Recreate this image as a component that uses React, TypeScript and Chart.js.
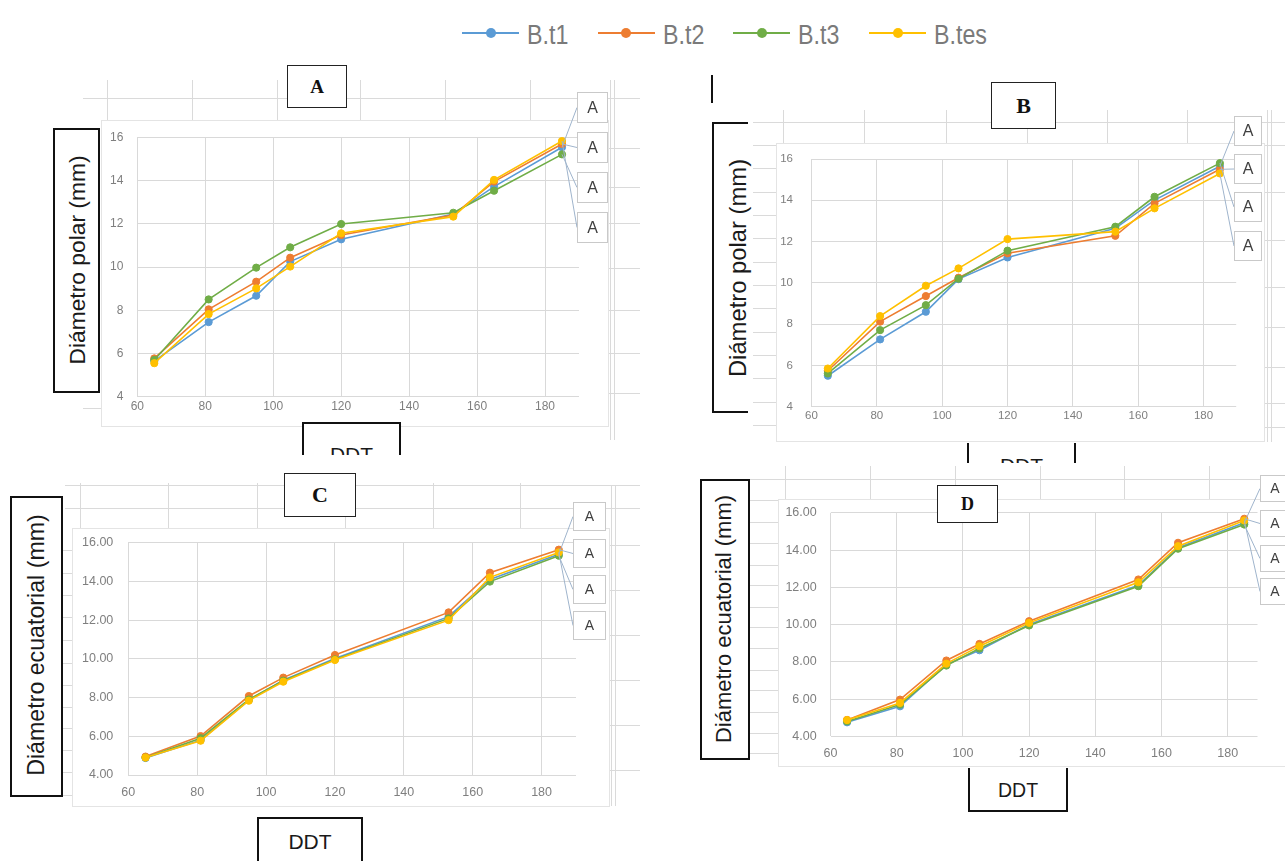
import React, { useEffect, useRef } from "react";
import { Chart, registerables } from "chart.js";

Chart.register(...registerables);

// ---------- DATA ----------
const DDT = [65, 81, 95, 105, 120, 153, 165, 185];
const SERIES_NAMES = ["B.t1", "B.t2", "B.t3", "B.tes"];
const X_TICKS = [60, 80, 100, 120, 140, 160, 180];
const Y_TICKS = [4, 6, 8, 10, 12, 14, 16];
const POINT_LABELS = ["A", "A", "A", "A"];

// Panel A – Diámetro polar (mm)
const A_BT1 = [5.65, 7.45, 8.67, 10.25, 11.28, 12.45, 13.72, 15.54];
const A_BT2 = [5.77, 8.04, 9.32, 10.43, 11.48, 12.4, 13.95, 15.69];
const A_BT3 = [5.7, 8.5, 9.97, 10.91, 11.99, 12.51, 13.53, 15.21];
const A_BTES = [5.55, 7.82, 9.01, 10.02, 11.56, 12.33, 14.03, 15.83];

// Panel B – Diámetro polar (mm)
const B_BT1 = [5.5, 7.26, 8.6, 10.18, 11.23, 12.64, 14.01, 15.65];
const B_BT2 = [5.74, 8.12, 9.36, 10.25, 11.43, 12.28, 13.85, 15.5];
const B_BT3 = [5.61, 7.71, 8.92, 10.2, 11.56, 12.72, 14.17, 15.8];
const B_BTES = [5.85, 8.39, 9.86, 10.7, 12.12, 12.48, 13.61, 15.3];

// Panel C – Diámetro ecuatorial (mm)
const C_BT1 = [4.88, 5.8, 7.87, 8.9, 10.02, 12.18, 14.1, 15.4];
const C_BT2 = [4.95, 6.01, 8.08, 9.03, 10.2, 12.4, 14.45, 15.64];
const C_BT3 = [4.9, 5.9, 7.9, 8.87, 9.97, 12.09, 13.99, 15.33];
const C_BTES = [4.9, 5.77, 7.84, 8.82, 9.94, 12.0, 14.21, 15.5];

// Panel D – Diámetro ecuatorial (mm)
const D_BT1 = [4.75, 5.61, 7.85, 8.62, 10.0, 12.11, 14.12, 15.46];
const D_BT2 = [4.88, 5.97, 8.07, 8.96, 10.18, 12.42, 14.39, 15.68];
const D_BT3 = [4.8, 5.7, 7.8, 8.71, 9.95, 12.06, 14.07, 15.37];
const D_BTES = [4.87, 5.79, 7.9, 8.84, 10.09, 12.27, 14.21, 15.59];

// ---------- STYLE / LAYOUT ----------
const COLORS = ["#5B9BD5", "#ED7D31", "#70AD47", "#FFC000"];
const SANS = "'Liberation Sans', Arial, sans-serif";
const SERIF = "'Liberation Serif', 'Times New Roman', serif";
const TICK_COLOR = "#7f7f7f";
const GRID_COLOR = "#d9d9d9";
const SHEET_COLOR = "#dadada";

type Box = { x: number; y: number; w: number; h: number };
type Panel = {
  series: number[][];
  decimals: boolean;
  xMax: number;
  canvas: Box;
  frame: Box;
  yAxisW: number;
  padTop: number;
  padRight: number;
  xAxisH: number;
  tickSize: number;
  xTickPad: number;
  yTickPad: number;
  boxes: Box[];
  boxFont: number;
};

const PANELS: Panel[] = [
  {
    series: [A_BT1, A_BT2, A_BT3, A_BTES],
    decimals: false,
    xMax: 190,
    canvas: { x: 101, y: 88, w: 512, h: 339 },
    frame: { x: 101, y: 120, w: 508, h: 307 },
    yAxisW: 36.3,
    padTop: 49.3,
    padRight: 34,
    xAxisH: 30.3,
    tickSize: 12,
    xTickPad: 3,
    yTickPad: 14,
    boxes: [
      { x: 577, y: 92, w: 31, h: 31 },
      { x: 577, y: 132, w: 31, h: 31 },
      { x: 577, y: 172, w: 31, h: 31 },
      { x: 577, y: 212, w: 31, h: 31 },
    ],
    boxFont: 16,
  },
  {
    series: [B_BT1, B_BT2, B_BT3, B_BTES],
    decimals: false,
    xMax: 190,
    canvas: { x: 776, y: 110, w: 492, h: 332 },
    frame: { x: 776, y: 143, w: 489, h: 299 },
    yAxisW: 35.5,
    padTop: 49,
    padRight: 31.8,
    xAxisH: 35.3,
    tickSize: 11.5,
    xTickPad: 2.4,
    yTickPad: 18.5,
    boxes: [
      { x: 1234, y: 116, w: 28, h: 30 },
      { x: 1234, y: 154, w: 28, h: 30 },
      { x: 1234, y: 192, w: 28, h: 30 },
      { x: 1234, y: 231, w: 28, h: 30 },
    ],
    boxFont: 16,
  },
  {
    series: [C_BT1, C_BT2, C_BT3, C_BTES],
    decimals: true,
    xMax: 190,
    canvas: { x: 72, y: 495, w: 540, h: 312 },
    frame: { x: 72, y: 528, w: 538, h: 279 },
    yAxisW: 56.3,
    padTop: 47.7,
    padRight: 36,
    xAxisH: 32,
    tickSize: 12.5,
    xTickPad: 9.8,
    yTickPad: 15,
    boxes: [
      { x: 573, y: 502, w: 33, h: 29 },
      { x: 573, y: 539, w: 33, h: 29 },
      { x: 573, y: 575, w: 33, h: 29 },
      { x: 573, y: 611, w: 33, h: 29 },
    ],
    boxFont: 14,
  },
  {
    series: [D_BT1, D_BT2, D_BT3, D_BTES],
    decimals: true,
    xMax: 189,
    canvas: { x: 778, y: 470, w: 507, h: 297 },
    frame: { x: 778, y: 499, w: 510, h: 268 },
    yAxisW: 52.5,
    padTop: 42.8,
    padRight: 27.5,
    xAxisH: 30.7,
    tickSize: 12.5,
    xTickPad: 9.5,
    yTickPad: 13.8,
    boxes: [
      { x: 1260, y: 475, w: 30, h: 27 },
      { x: 1260, y: 510, w: 30, h: 27 },
      { x: 1260, y: 545, w: 30, h: 27 },
      { x: 1260, y: 578, w: 30, h: 27 },
    ],
    boxFont: 14,
  },
];

// faint spreadsheet cell lines behind the pasted charts [x1, y1, x2, y2]
const SHEET_LINES: number[][] = [
  // around A
  [83, 98, 640, 98],
  [107, 80, 107, 120], [192, 80, 192, 120], [277, 80, 277, 120],
  [360, 80, 360, 120], [445, 80, 445, 120], [530, 80, 530, 120],
  [610, 80, 610, 440], [614, 80, 614, 440],
  [609, 148, 640, 148], [609, 187, 640, 187], [609, 223, 640, 223], [609, 268, 640, 268],
  [609, 310, 640, 310], [609, 353, 640, 353], [609, 393, 640, 393],
  [83, 408, 101, 408],
  // around B
  [753, 122, 1285, 122],
  [783, 110, 783, 143], [864, 110, 864, 143], [946, 110, 946, 143],
  [1027, 110, 1027, 143], [1107, 110, 1107, 143], [1187, 110, 1187, 143],
  [1267, 110, 1267, 442], [1271, 110, 1271, 442],
  [1265, 145, 1285, 145], [1265, 192, 1285, 192], [1265, 240, 1285, 240], [1265, 287, 1285, 287],
  [1265, 327, 1285, 327], [1265, 367, 1285, 367], [1265, 403, 1285, 403], [1265, 427, 1285, 427],
  [753, 145, 776, 145], [753, 168, 776, 168], [753, 192, 776, 192], [753, 215, 776, 215],
  [753, 238, 776, 238], [753, 262, 776, 262], [753, 285, 776, 285], [753, 308, 776, 308],
  [753, 332, 776, 332], [753, 355, 776, 355], [753, 378, 776, 378], [753, 402, 776, 402],
  [753, 425, 776, 425],
  // around C
  [65, 485, 640, 485], [65, 508, 640, 508],
  [80, 483, 80, 528], [168, 483, 168, 528], [257, 483, 257, 528],
  [345, 483, 345, 528], [433, 483, 433, 528], [520, 483, 520, 528],
  [611, 485, 611, 806], [615, 485, 615, 806],
  [610, 545, 640, 545], [610, 590, 640, 590], [610, 635, 640, 635], [610, 680, 640, 680],
  [610, 725, 640, 725], [610, 770, 640, 770],
  [63, 550, 72, 550], [63, 573, 72, 573], [63, 595, 72, 595], [63, 617, 72, 617],
  [63, 640, 72, 640], [63, 663, 72, 663], [63, 685, 72, 685], [63, 707, 72, 707],
  [63, 728, 72, 728], [63, 750, 72, 750], [63, 772, 72, 772], [63, 795, 72, 795],
  // around D
  [750, 479, 1285, 479],
  [785, 466, 785, 499], [870, 466, 870, 499], [955, 466, 955, 499],
  [1040, 466, 1040, 499], [1124, 466, 1124, 499], [1209, 466, 1209, 499],
  [750, 500, 778, 500], [750, 522, 778, 522], [750, 543, 778, 543], [750, 565, 778, 565],
  [750, 585, 778, 585], [750, 607, 778, 607], [750, 627, 778, 627], [750, 648, 778, 648],
  [750, 670, 778, 670], [750, 690, 778, 690], [750, 712, 778, 712], [750, 733, 778, 733],
  [750, 753, 778, 753],
];

// ---------- plugin: data labels with leader lines ----------
const leaderPlugin = {
  id: "leaderLabels",
  afterDatasetsDraw(chart: any, _args: any, opts: any) {
    const { boxes, originX, originY, font, labels } = opts;
    const ctx = chart.ctx;
    ctx.save();
    chart.data.datasets.forEach((_ds: any, i: number) => {
      const meta = chart.getDatasetMeta(i);
      const pt = meta.data[meta.data.length - 1];
      const b = boxes[i];
      const bx = b.x - originX;
      const by = b.y - originY;
      ctx.strokeStyle = "#9fb4cc";
      ctx.lineWidth = 1;
      ctx.beginPath();
      ctx.moveTo(pt.x, pt.y);
      ctx.lineTo(bx, by + b.h / 2);
      ctx.stroke();
    });
    chart.data.datasets.forEach((_ds: any, i: number) => {
      const b = boxes[i];
      const bx = b.x - originX;
      const by = b.y - originY;
      ctx.fillStyle = "#ffffff";
      ctx.fillRect(bx, by, b.w, b.h);
      ctx.strokeStyle = "#c9c9c9";
      ctx.lineWidth = 1;
      ctx.strokeRect(bx + 0.5, by + 0.5, b.w - 1, b.h - 1);
      ctx.fillStyle = "#404040";
      ctx.font = `${font}px ${SANS}`;
      ctx.textAlign = "center";
      ctx.textBaseline = "middle";
      ctx.fillText(labels[i], bx + b.w / 2, by + b.h / 2 + 1);
    });
    ctx.restore();
  },
};

function buildConfig(p: Panel): any {
  return {
    type: "line",
    data: {
      datasets: p.series.map((vals, i) => ({
        label: SERIES_NAMES[i],
        data: DDT.map((x, j) => ({ x, y: vals[j] })),
        borderColor: COLORS[i],
        backgroundColor: COLORS[i],
        pointBackgroundColor: COLORS[i],
        pointBorderColor: COLORS[i],
        borderWidth: 1.6,
        pointRadius: 3.6,
        pointBorderWidth: 1,
        tension: 0,
        order: 3 - i,
      })),
    },
    options: {
      responsive: false,
      animation: false,
      events: [],
      layout: { padding: { left: 0, top: p.padTop, right: p.padRight, bottom: 0 } },
      plugins: {
        legend: { display: false },
        tooltip: { enabled: false },
        leaderLabels: {
          boxes: p.boxes,
          originX: p.canvas.x,
          originY: p.canvas.y,
          font: p.boxFont,
          labels: POINT_LABELS,
        },
      },
      scales: {
        x: {
          type: "linear",
          min: 60,
          max: p.xMax,
          afterBuildTicks: (axis: any) => {
            axis.ticks = X_TICKS.map((v) => ({ value: v }));
          },
          afterFit: (axis: any) => {
            axis.height = p.xAxisH;
          },
          grid: { color: GRID_COLOR, lineWidth: 1, drawTicks: false },
          border: { display: false },
          ticks: {
            color: TICK_COLOR,
            font: { size: p.tickSize, family: SANS },
            padding: p.xTickPad,
            maxRotation: 0,
            autoSkip: false,
          },
        },
        y: {
          type: "linear",
          min: 4,
          max: 16,
          afterBuildTicks: (axis: any) => {
            axis.ticks = Y_TICKS.map((v) => ({ value: v }));
          },
          afterFit: (axis: any) => {
            axis.width = p.yAxisW;
          },
          grid: { color: GRID_COLOR, lineWidth: 1, drawTicks: false },
          border: { display: false },
          ticks: {
            color: TICK_COLOR,
            font: { size: p.tickSize, family: SANS },
            padding: p.yTickPad,
            callback: (v: any) => (p.decimals ? Number(v).toFixed(2) : String(v)),
          },
        },
      },
    },
    plugins: [leaderPlugin],
  };
}

function PanelChart({ panel }: { panel: Panel }) {
  const ref = useRef<HTMLCanvasElement | null>(null);
  useEffect(() => {
    const chart = new Chart(ref.current as HTMLCanvasElement, buildConfig(panel));
    return () => chart.destroy();
  }, [panel]);
  const c = panel.canvas;
  return (
    <canvas
      ref={ref}
      width={c.w}
      height={c.h}
      style={{ position: "absolute", left: c.x, top: c.y, width: c.w, height: c.h }}
    />
  );
}

// text whose capital-letter middle sits at (cx, cy)
function CapText({ cx, cy, fs, children, color = "#1a1a1a", family = SANS }: any) {
  return (
    <div
      style={{
        position: "absolute",
        left: cx,
        top: cy - 0.4885 * fs,
        transform: "translateX(-50%)",
        fontSize: fs,
        lineHeight: 1,
        fontFamily: family,
        color,
        whiteSpace: "nowrap",
      }}
    >
      {children}
    </div>
  );
}

function VText({ cx, cy, fs, children }: any) {
  return (
    <div
      style={{
        position: "absolute",
        left: cx,
        top: cy,
        transform: "translate(-50%, -50%) rotate(-90deg)",
        fontSize: fs,
        lineHeight: 1,
        fontFamily: SANS,
        color: "#1a1a1a",
        whiteSpace: "nowrap",
      }}
    >
      {children}
    </div>
  );
}

function LetterBox({ x, y, w, h, fs, letter }: any) {
  return (
    <div
      style={{
        position: "absolute",
        left: x,
        top: y,
        width: w,
        height: h,
        boxSizing: "border-box",
        border: "1.6px solid #222",
        background: "#fff",
        display: "flex",
        alignItems: "center",
        justifyContent: "center",
        fontFamily: SERIF,
        fontWeight: "bold",
        fontSize: fs,
        color: "#111",
      }}
    >
      {letter}
    </div>
  );
}

const LEGEND_X = [462, 597.5, 733, 869];

export default function App() {
  return (
    <div
      style={{
        position: "absolute",
        left: 0,
        top: 0,
        width: 1285,
        height: 861,
        overflow: "hidden",
        background: "#ffffff",
      }}
    >
      {/* spreadsheet cell lines */}
      {SHEET_LINES.map(([x1, y1, x2, y2], i) => (
        <div
          key={"s" + i}
          style={{
            position: "absolute",
            left: Math.min(x1, x2),
            top: Math.min(y1, y2),
            width: Math.max(1, Math.abs(x2 - x1)),
            height: Math.max(1, Math.abs(y2 - y1)),
            background: SHEET_COLOR,
          }}
        />
      ))}

      {/* chart frames */}
      {PANELS.map((p, i) => (
        <div
          key={"f" + i}
          style={{
            position: "absolute",
            left: p.frame.x,
            top: p.frame.y,
            width: p.frame.w,
            height: p.frame.h,
            boxSizing: "border-box",
            background: "#fff",
            border: "1px solid #e4e4e4",
          }}
        />
      ))}

      {/* charts */}
      {PANELS.map((p, i) => (
        <PanelChart key={"c" + i} panel={p} />
      ))}

      {/* shared legend */}
      {SERIES_NAMES.map((name, i) => (
        <React.Fragment key={"l" + i}>
          <div
            style={{
              position: "absolute",
              left: LEGEND_X[i],
              top: 32.3,
              width: 57,
              height: 2,
              background: COLORS[i],
            }}
          />
          <div
            style={{
              position: "absolute",
              left: LEGEND_X[i] + 28.5 - 5,
              top: 33.3 - 5,
              width: 10,
              height: 10,
              borderRadius: 5,
              background: COLORS[i],
            }}
          />
          <div
            style={{
              position: "absolute",
              left: LEGEND_X[i] + 65,
              top: 35 - 0.4885 * 27,
              fontSize: 27,
              lineHeight: 1,
              fontFamily: SANS,
              color: "#7a7a7a",
              whiteSpace: "nowrap",
              transform: "scaleX(0.86)",
              transformOrigin: "0 50%",
            }}
          >
            {name}
          </div>
        </React.Fragment>
      ))}

      {/* ---------- Panel A decorations ---------- */}
      <LetterBox x={287} y={65} w={60} h={43} fs={19} letter="A" />
      <div
        style={{
          position: "absolute", left: 53, top: 128, width: 47, height: 265,
          boxSizing: "border-box", border: "2px solid #111", background: "#fff",
        }}
      />
      <VText cx={76.5} cy={260} fs={22.8}>Diámetro polar (mm)</VText>
      <div
        style={{
          position: "absolute", left: 302, top: 422, width: 99, height: 33,
          overflow: "hidden", boxSizing: "border-box",
          borderTop: "2px solid #111", borderLeft: "2px solid #111", borderRight: "2px solid #111",
          background: "#fff",
        }}
      >
        <div
          style={{
            position: "absolute", left: 0, width: "100%", top: 447 - 422 - 2 - 0.1305 * 21,
            textAlign: "center", fontSize: 21, lineHeight: 1, fontFamily: SANS, color: "#1a1a1a",
          }}
        >
          DDT
        </div>
      </div>

      {/* ---------- Panel B decorations ---------- */}
      <LetterBox x={991} y={82} w={65} h={47} fs={22} letter="B" />
      <div style={{ position: "absolute", left: 711, top: 75, width: 2, height: 28, background: "#111" }} />
      <div
        style={{
          position: "absolute", left: 712, top: 122, width: 36, height: 291,
          boxSizing: "border-box", borderLeft: "2px solid #111", borderTop: "2px solid #111",
          borderBottom: "2px solid #111",
        }}
      />
      <VText cx={738} cy={267.5} fs={23.8}>Diámetro polar (mm)</VText>
      <div
        style={{
          position: "absolute", left: 967, top: 443, width: 109, height: 20,
          overflow: "hidden", boxSizing: "border-box",
          borderLeft: "2px solid #111", borderRight: "2px solid #111",
        }}
      >
        <div
          style={{
            position: "absolute", left: 0, width: "100%", top: 458 - 443 - 0.1305 * 21,
            textAlign: "center", fontSize: 21, lineHeight: 1, fontFamily: SANS, color: "#1a1a1a",
          }}
        >
          DDT
        </div>
      </div>

      {/* ---------- Panel C decorations ---------- */}
      <LetterBox x={284} y={473} w={72} h={44} fs={22} letter="C" />
      <div
        style={{
          position: "absolute", left: 10, top: 496, width: 53, height: 301,
          boxSizing: "border-box", border: "2px solid #111", background: "#fff",
        }}
      />
      <VText cx={36.5} cy={645} fs={23.2}>Diámetro ecuatorial (mm)</VText>
      <div
        style={{
          position: "absolute", left: 257, top: 817, width: 106, height: 50,
          boxSizing: "border-box", border: "2px solid #111", background: "#fff",
        }}
      />
      <CapText cx={310} cy={841.7} fs={21}>DDT</CapText>

      {/* ---------- Panel D decorations ---------- */}
      <LetterBox x={937} y={485} w={61} h={38} fs={18} letter="D" />
      <div
        style={{
          position: "absolute", left: 700, top: 479, width: 50, height: 281,
          boxSizing: "border-box", border: "2px solid #111", background: "#fff",
        }}
      />
      <VText cx={724} cy={619} fs={22}>Diámetro ecuatorial (mm)</VText>
      <div
        style={{
          position: "absolute", left: 968, top: 768, width: 100, height: 44,
          boxSizing: "border-box", borderLeft: "2px solid #111", borderRight: "2px solid #111",
          borderBottom: "2px solid #111", background: "#fff",
        }}
      />
      <CapText cx={1018} cy={791} fs={19.5}>DDT</CapText>
    </div>
  );
}
